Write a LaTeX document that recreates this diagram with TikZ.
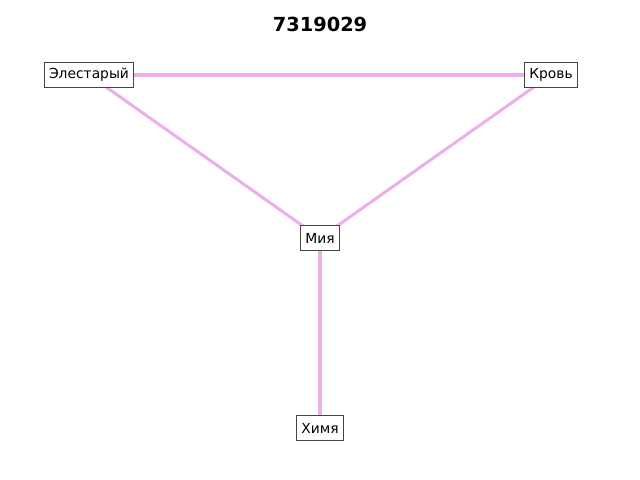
\documentclass[tikz,border=0pt]{standalone}
\usepackage{fontspec}
\setmainfont{DejaVu Sans}
\usetikzlibrary{backgrounds}
\definecolor{edgec}{RGB}{235,176,235}
\definecolor{boxc}{RGB}{68,68,68}
\begin{document}
\begin{tikzpicture}[x=0.01in,y=-0.01in,
  vtx/.style={draw=boxc,fill=white,line width=0.8pt,inner xsep=3.6pt,inner ysep=3pt,font=\fontsize{10}{12}\selectfont,minimum height=18pt},
  lnk/.style={draw=edgec,line width=2.2pt}]
\useasboundingbox (0,0) rectangle (640,480);
\node[font=\bfseries\fontsize{14}{16}\selectfont] (title) at (320,24) {7319029};
\node[vtx] (e) at (89,75) {Элестарый};
\node[vtx] (k) at (551,75) {Кровь};
\node[vtx] (m) at (320,238) {Мия};
\node[vtx] (h) at (320,428) {Химя};
\begin{scope}[on background layer]
\draw[lnk] (e.center) -- (k.center);
\draw[lnk] (e.center) -- (m.center);
\draw[lnk] (k.center) -- (m.center);
\draw[lnk] (m.center) -- (h.center);
\end{scope}
\end{tikzpicture}
\end{document}
